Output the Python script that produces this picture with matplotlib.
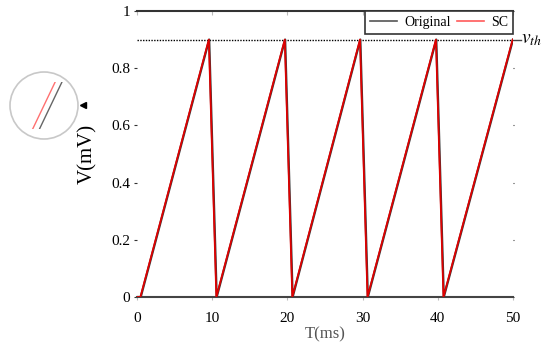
import matplotlib
matplotlib.use("Agg")
import matplotlib.pyplot as plt
from matplotlib.lines import Line2D
from matplotlib.patches import Circle, Rectangle

plt.rcParams['font.family'] = ['Liberation Serif', 'DejaVu Serif']
plt.rcParams['mathtext.fontset'] = 'stix'

# ---- data ----
t_orig = [0, 0.5, 9.6, 10.6, 19.7, 20.7, 29.7, 30.7, 39.8, 40.8, 50]
v_orig = [0, 0, 0.9, 0, 0.9, 0, 0.9, 0, 0.9, 0, 0.9]
t_sc = [0, 0.45, 9.55, 10.55, 19.65, 20.65, 29.65, 30.65, 39.75, 40.75, 49.95]
v_sc = [0, 0, 0.9, 0, 0.9, 0, 0.9, 0, 0.9, 0, 0.9]
v_th = 0.9
x_ticks = [0, 10, 20, 30, 40, 50]
y_ticks = [0, 0.2, 0.4, 0.6, 0.8, 1]
y_tick_labels = ['0', '0.2', '0.4', '0.6', '0.8', '1']
legend_labels = ['Original', 'SC']

W, H = 548, 343
fig = plt.figure(figsize=(W / 100, H / 100), dpi=100)
ax = fig.add_axes([137 / W, 1 - 297 / H, (513 - 137) / W, (297 - 11) / H])

ax.plot(t_orig, v_orig, color='#3a3a3a', lw=1.6, zorder=3)
ax.plot(t_sc, v_sc, color='#e00000', lw=1.3, zorder=4)
ax.axhline(v_th, color='black', lw=1.0, ls=(0, (1, 1)), zorder=2)
ax.plot([50, 51], [v_th, v_th], color='#444', lw=1.0, clip_on=False)
ax.text(51.1, v_th, r'$v_{th}$', fontsize=14, va='center', ha='left')

ax.set_xlim(0, 50)
ax.set_ylim(0, 1)
ax.set_xticks(x_ticks)
ax.set_yticks(y_ticks)
ax.set_yticklabels(y_tick_labels)
ax.tick_params(axis='x', labelsize=11, length=2, pad=9, color='#bbbbbb', direction='out')
ax.tick_params(axis='y', labelsize=11, length=2, pad=3, color='#333333', direction='out')
ax.tick_params(axis='x', which='both', top=True, labeltop=False)
ax.tick_params(axis='y', which='both', right=True, labelright=False)
ax.xaxis.set_tick_params(which='major', top=True)
for tk in ax.xaxis.get_major_ticks():
    tk.tick2line.set_markersize(3)
    tk.tick2line.set_color('#333')
    tk.tick2line.set_marker(3)
for tk in ax.yaxis.get_major_ticks():
    tk.tick2line.set_markersize(1)
    tk.tick2line.set_color('#666')

ax.spines['left'].set_visible(False)
ax.spines['right'].set_visible(False)
ax.spines['top'].set_color('#333333')
ax.spines['top'].set_linewidth(1.5)
ax.spines['bottom'].set_color('#444444')
ax.spines['bottom'].set_linewidth(1.5)

ax.set_xlabel('T(ms)', fontsize=12, color='#555555', labelpad=1)
ax.set_ylabel('V(mV)', fontsize=15, labelpad=10)

handles = [Line2D([], [], color='#555555', lw=1.2),
           Line2D([], [], color='#ff5a5a', lw=1.2)]
leg = ax.legend(handles, legend_labels, loc='upper right', ncol=2, fontsize=10,
                frameon=True, fancybox=False, framealpha=1, borderaxespad=0,
                handlelength=1.95, handletextpad=0.5, columnspacing=0.45,
                borderpad=0.35)
leg.get_frame().set_edgecolor('#333333')
leg.get_frame().set_linewidth(1.2)

# ---- inset magnifier ----
axi = fig.add_axes([10 / W, 1 - 139 / H, 68 / W, 67 / H])
axi.set_xlim(4.70, 5.20)
axi.set_ylim(0.445 - 0.01165, 0.445 + 0.01165)
axi.axis('off')
clip = Rectangle((0, 0.437), 60, 0.016, transform=axi.transData)
l1, = axi.plot(t_orig, v_orig, color='#666666', lw=1.0)
l2, = axi.plot(t_sc, v_sc, color='#ff7070', lw=1.0)
for ln in (l1, l2):
    ln.set_clip_path(clip)
circ = Circle((0.5, 0.5), 0.5, transform=axi.transAxes, fill=False,
              edgecolor='#c8c8c8', lw=1.2, clip_on=False)
axi.add_patch(circ)
fig.add_artist(Line2D([83 / W], [1 - 105 / H], marker='<', color='black',
                      markersize=5, linestyle='none'))

fig.savefig('out.png', dpi=100)
